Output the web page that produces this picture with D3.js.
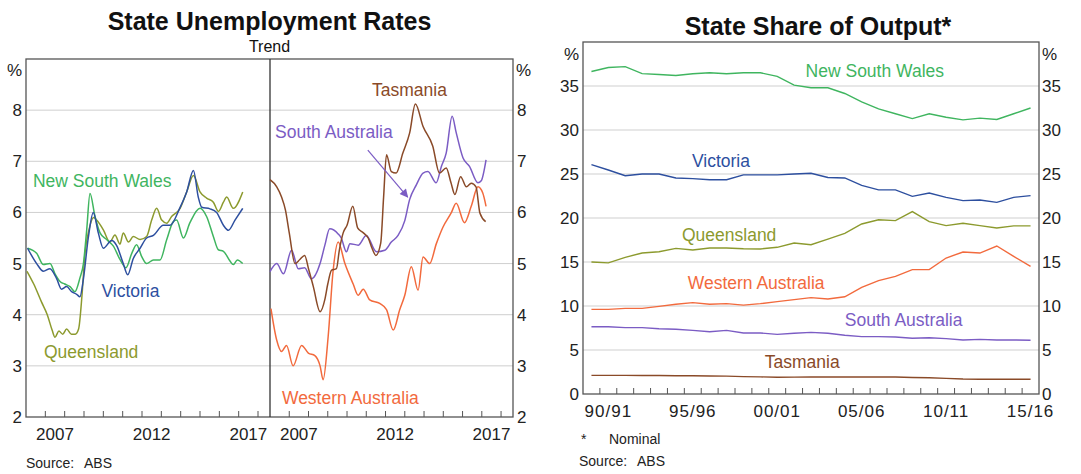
<!DOCTYPE html>
<html>
<head>
<meta charset="utf-8">
<script src="https://cdn.jsdelivr.net/npm/d3@7"></script>
<style>
  body { margin: 0; background: #fff; }
  svg { display: block; font-family: "Liberation Sans", Arial, sans-serif; }
</style>
</head>
<body>
<svg id="chart" width="1081" height="474"></svg>
<script>
// ---- left chart: unemployment rates, trend (decimal year, %) ----
const nswUnemp = [[2006.08,5.3],[2006.55,5.2],[2006.9,4.98],[2007.24,5.0],[2007.5,4.8],[2007.76,4.65],[2008.0,4.6],[2008.28,4.55],[2008.53,4.45],[2008.79,4.72],[2008.97,5.0],[2009.14,5.66],[2009.31,6.37],[2009.57,5.92],[2009.83,5.6],[2010.17,5.47],[2010.52,5.34],[2010.86,5.08],[2011.17,4.92],[2011.47,5.2],[2011.72,5.37],[2011.98,5.14],[2012.24,5.0],[2012.59,5.07],[2012.93,5.07],[2013.28,5.47],[2013.62,5.82],[2013.79,5.85],[2014.14,5.5],[2014.48,5.8],[2015.0,6.08],[2015.34,5.92],[2015.69,5.53],[2015.95,5.27],[2016.21,5.24],[2016.55,5.05],[2016.72,4.98],[2016.93,5.07],[2017.21,5.0]];
const vicUnemp = [[2006.08,5.3],[2006.55,5.0],[2006.9,4.85],[2007.24,4.9],[2007.59,4.7],[2007.84,4.5],[2008.1,4.55],[2008.36,4.45],[2008.62,4.4],[2008.79,4.35],[2008.97,4.7],[2009.22,5.5],[2009.48,6.0],[2009.74,5.6],[2010.0,5.3],[2010.43,5.45],[2010.69,5.35],[2011.03,5.0],[2011.26,4.78],[2011.55,5.1],[2011.9,5.3],[2012.24,5.5],[2012.59,5.55],[2013.1,5.75],[2013.45,5.75],[2013.97,6.1],[2014.31,6.4],[2014.66,6.82],[2014.91,6.3],[2015.09,6.1],[2015.52,6.07],[2015.86,6.0],[2016.21,5.75],[2016.47,5.65],[2016.81,5.85],[2017.21,6.08]];
const qldUnemp = [[2006.05,4.85],[2006.4,4.6],[2006.8,4.25],[2007.1,4.0],[2007.35,3.7],[2007.5,3.56],[2007.7,3.68],[2007.9,3.62],[2008.1,3.72],[2008.35,3.62],[2008.55,3.62],[2008.72,3.72],[2008.9,4.4],[2009.05,5.2],[2009.25,5.65],[2009.5,5.9],[2009.65,5.85],[2010.0,5.66],[2010.34,5.42],[2010.6,5.56],[2010.86,5.38],[2011.03,5.6],[2011.3,5.42],[2011.55,5.53],[2011.9,5.47],[2012.24,5.53],[2012.5,5.85],[2012.76,6.08],[2013.02,5.85],[2013.28,5.79],[2013.53,5.92],[2013.97,6.08],[2014.31,6.4],[2014.66,6.72],[2015.0,6.4],[2015.34,6.28],[2015.69,6.2],[2015.95,6.02],[2016.21,6.2],[2016.38,6.3],[2016.72,6.08],[2017.21,6.4]];
const tasUnemp = [[2006.0,6.64],[2006.35,6.5],[2006.6,6.3],[2006.8,6.05],[2007.0,5.6],[2007.3,5.0],[2007.55,5.08],[2007.8,5.16],[2008.0,4.9],[2008.25,4.55],[2008.6,4.06],[2008.85,4.3],[2009.0,4.6],[2009.2,4.87],[2009.45,4.9],[2009.6,5.26],[2009.8,5.6],[2010.0,5.75],[2010.3,6.12],[2010.55,5.7],[2010.85,5.6],[2011.1,5.5],[2011.3,5.3],[2011.5,5.16],[2011.75,5.4],[2011.9,6.3],[2012.05,7.13],[2012.3,6.8],[2012.55,6.77],[2012.9,7.16],[2013.25,7.55],[2013.55,8.12],[2013.95,7.68],[2014.45,7.3],[2014.8,6.77],[2015.15,6.87],[2015.4,6.58],[2015.6,6.35],[2015.9,6.7],[2016.2,6.5],[2016.45,6.57],[2016.7,6.5],[2016.9,5.99],[2017.2,5.82]];
const saUnemp = [[2006.0,4.84],[2006.35,5.0],[2006.7,4.8],[2007.12,5.26],[2007.47,4.9],[2007.8,4.92],[2008.15,4.7],[2008.6,5.0],[2008.85,5.36],[2009.1,5.68],[2009.54,5.58],[2009.7,5.5],[2009.97,5.23],[2010.15,5.39],[2010.58,5.36],[2011.0,5.55],[2011.53,5.23],[2011.96,5.26],[2012.3,5.42],[2012.65,5.55],[2013.0,5.84],[2013.25,6.25],[2013.6,6.54],[2013.95,6.77],[2014.2,6.8],[2014.63,6.58],[2014.9,6.9],[2015.15,7.16],[2015.46,7.88],[2015.67,7.56],[2016.02,7.07],[2016.36,6.9],[2016.8,6.58],[2016.97,6.62],[2017.22,7.03]];
const waUnemp = [[2006.05,4.12],[2006.35,3.5],[2006.6,3.28],[2006.86,3.4],[2007.2,3.0],[2007.64,3.4],[2007.99,3.25],[2008.33,3.2],[2008.6,3.0],[2008.76,2.73],[2009.02,3.57],[2009.28,4.87],[2009.54,5.42],[2009.89,5.0],[2010.32,4.6],[2010.58,4.38],[2010.84,4.5],[2011.18,4.29],[2011.7,4.22],[2012.05,4.1],[2012.4,3.7],[2012.74,4.1],[2013.0,4.38],[2013.34,4.94],[2013.69,4.48],[2013.95,5.13],[2014.29,5.0],[2014.64,5.39],[2014.98,5.71],[2015.41,5.99],[2015.67,6.18],[2016.1,5.8],[2016.45,6.12],[2016.8,6.5],[2017.05,6.38],[2017.22,6.12]];
const yearLabels = [2007, 2012, 2017];
const unempTicks = [2, 3, 4, 5, 6, 7, 8];

// ---- right chart: state share of output, nominal (%) ----
const fiscalYears = ["89/90","90/91","91/92","92/93","93/94","94/95","95/96","96/97","97/98","98/99","99/00","00/01","01/02","02/03","03/04","04/05","05/06","06/07","07/08","08/09","09/10","10/11","11/12","12/13","13/14","14/15","15/16"];
const nswShare = [36.65,37.1,37.2,36.4,36.3,36.2,36.4,36.5,36.4,36.5,36.5,36.1,35.1,34.8,34.8,34.15,33.2,32.4,31.85,31.3,31.85,31.45,31.15,31.35,31.2,31.85,32.5];
const vicShare = [26.06,25.45,24.8,25.0,25.0,24.55,24.47,24.35,24.35,24.9,24.9,24.9,25.0,25.08,24.6,24.55,23.7,23.2,23.2,22.46,22.84,22.35,21.97,22.05,21.78,22.35,22.54];
const qldShare = [15.0,14.9,15.53,16.02,16.17,16.55,16.36,16.59,16.59,16.5,16.48,16.67,17.16,16.97,17.6,18.26,19.32,19.8,19.7,20.72,19.58,19.13,19.4,19.13,18.86,19.1,19.1];
const waShare = [9.62,9.62,9.73,9.73,9.96,10.2,10.38,10.2,10.27,10.1,10.27,10.5,10.72,10.95,10.8,11.05,12.12,12.88,13.37,14.13,14.13,15.45,16.14,16.02,16.82,15.64,14.5];
const saShare = [7.65,7.65,7.54,7.54,7.42,7.35,7.23,7.08,7.23,6.93,6.93,6.78,6.9,7.0,6.9,6.67,6.52,6.52,6.48,6.33,6.4,6.29,6.14,6.21,6.14,6.14,6.1];
const tasShare = [2.12,2.12,2.12,2.1,2.1,2.08,2.08,2.05,2.03,1.97,1.95,1.9,1.92,1.95,1.93,1.93,1.93,1.93,1.93,1.88,1.85,1.78,1.7,1.68,1.68,1.68,1.67];
const fyLabels = ["90/91","95/96","00/01","05/06","10/11","15/16"];
const shareTicks = [0, 5, 10, 15, 20, 25, 30, 35];

const colors = {
  nsw: "#3fb55f", vic: "#2d4f9f", qld: "#8c9a2e",
  tas: "#8a4a28", sa: "#7b5cc4", wa: "#f26a3d"
};
const frameColor = "#555";
const gridColor = "#cfcfcf";
const textColor = "#222";

const svg = d3.select("#chart");

// =================== left chart ===================
const L = { left: 26, mid: 270, right: 513, top: 59, bottom: 417 };
const xL1 = d3.scaleLinear().domain([2006, 2018.62]).range([L.left, L.mid]);
const xL2 = d3.scaleLinear().domain([2006, 2018.62]).range([L.mid, L.right]);
const yL = d3.scaleLinear().domain([2, 9]).range([L.bottom, L.top]);

const left = svg.append("g");

left.append("g").selectAll("line")
  .data(unempTicks.filter(d => d > 2))
  .join("line")
  .attr("x1", L.left).attr("x2", L.right)
  .attr("y1", d => yL(d)).attr("y2", d => yL(d))
  .attr("stroke", gridColor).attr("stroke-width", 1);

// year ticks, both panels
[xL1, xL2].forEach(x => {
  left.append("g").selectAll("line")
    .data(d3.range(2007, 2019))
    .join("line")
    .attr("x1", d => x(d)).attr("x2", d => x(d))
    .attr("y1", L.bottom).attr("y2", L.bottom - 6)
    .attr("stroke", frameColor).attr("stroke-width", 1);

  left.append("g").selectAll("text")
    .data(yearLabels)
    .join("text")
    .attr("x", d => x(d + 0.5))
    .attr("y", L.bottom + 23)
    .attr("text-anchor", "middle")
    .attr("font-size", 17)
    .attr("fill", textColor)
    .text(d => d);
});

left.append("rect")
  .attr("x", L.left).attr("y", L.top)
  .attr("width", L.right - L.left).attr("height", L.bottom - L.top)
  .attr("fill", "none").attr("stroke", frameColor).attr("stroke-width", 1.3);
left.append("line")
  .attr("x1", L.mid).attr("x2", L.mid).attr("y1", L.top).attr("y2", L.bottom)
  .attr("stroke", "#333").attr("stroke-width", 1.3);

// y labels both sides
left.append("g").selectAll("text")
  .data(unempTicks)
  .join("text")
  .attr("x", L.left - 4).attr("y", d => yL(d) + 6)
  .attr("text-anchor", "end").attr("font-size", 17).attr("fill", textColor)
  .text(d => d);
left.append("g").selectAll("text")
  .data(unempTicks)
  .join("text")
  .attr("x", L.right + 4).attr("y", d => yL(d) + 6)
  .attr("font-size", 17).attr("fill", textColor)
  .text(d => d);
left.append("text").attr("x", L.left - 4).attr("y", L.top + 17)
  .attr("text-anchor", "end").attr("font-size", 17).attr("fill", textColor).text("%");
left.append("text").attr("x", L.right + 3).attr("y", L.top + 17)
  .attr("font-size", 17).attr("fill", textColor).text("%");

const lineL1 = d3.line().x(d => xL1(d[0])).y(d => yL(d[1])).curve(d3.curveMonotoneX);
const lineL2 = d3.line().x(d => xL2(d[0])).y(d => yL(d[1])).curve(d3.curveMonotoneX);

[[qldUnemp, colors.qld], [nswUnemp, colors.nsw], [vicUnemp, colors.vic]].forEach(([data, c]) => {
  left.append("path").datum(data)
    .attr("d", lineL1).attr("fill", "none")
    .attr("stroke", c).attr("stroke-width", 1.5);
});
[[waUnemp, colors.wa], [saUnemp, colors.sa], [tasUnemp, colors.tas]].forEach(([data, c]) => {
  left.append("path").datum(data)
    .attr("d", lineL2).attr("fill", "none")
    .attr("stroke", c).attr("stroke-width", 1.5);
});

// series labels
const leftLabels = [
  { text: "New South Wales", x: xL1, at: [2006.36, 6.5], c: colors.nsw },
  { text: "Victoria", x: xL1, at: [2009.9, 4.35], c: colors.vic },
  { text: "Queensland", x: xL1, at: [2006.93, 3.15], c: colors.qld },
  { text: "Tasmania", x: xL2, at: [2011.3, 8.28], c: colors.tas },
  { text: "South Australia", x: xL2, at: [2006.26, 7.45], c: colors.sa },
  { text: "Western Australia", x: xL2, at: [2006.62, 2.26], c: colors.wa }
];
left.append("g").selectAll("text")
  .data(leftLabels)
  .join("text")
  .attr("x", d => d.x(d.at[0])).attr("y", d => yL(d.at[1]))
  .attr("font-size", 17.5).attr("fill", d => d.c)
  .text(d => d.text);

// arrow to South Australia line
svg.append("defs").append("marker")
  .attr("id", "arrowhead")
  .attr("viewBox", "0 -5 10 10")
  .attr("refX", 9).attr("refY", 0)
  .attr("markerWidth", 8).attr("markerHeight", 7)
  .attr("orient", "auto")
  .append("path")
  .attr("d", "M0,-5L10,0L0,5Z")
  .attr("fill", colors.sa);
left.append("line")
  .attr("x1", xL2(2011.08)).attr("y1", yL(7.22))
  .attr("x2", xL2(2013.15)).attr("y2", yL(6.3))
  .attr("stroke", colors.sa).attr("stroke-width", 1.2)
  .attr("marker-end", "url(#arrowhead)");

left.append("text").attr("x", (L.left + L.right) / 2).attr("y", 30)
  .attr("text-anchor", "middle").attr("font-size", 25).attr("font-weight", "bold")
  .attr("fill", "#111").text("State Unemployment Rates");
left.append("text").attr("x", (L.left + L.right) / 2).attr("y", 52)
  .attr("text-anchor", "middle").attr("font-size", 16).attr("fill", "#111").text("Trend");
left.append("text").attr("x", L.left).attr("y", 468)
  .attr("font-size", 14).attr("fill", textColor).text("Source:");
left.append("text").attr("x", L.left + 58).attr("y", 468)
  .attr("font-size", 14).attr("fill", textColor).text("ABS");

// =================== right chart ===================
const R = { left: 583, right: 1039, top: 42, bottom: 394 };
const xR = d3.scaleLinear().domain([-0.5, fiscalYears.length - 0.5]).range([R.left, R.right]);
const yR = d3.scaleLinear().domain([0, 40]).range([R.bottom, R.top]);

const right = svg.append("g");

right.append("g").selectAll("line")
  .data(shareTicks.filter(d => d > 0))
  .join("line")
  .attr("x1", R.left).attr("x2", R.right)
  .attr("y1", d => yR(d)).attr("y2", d => yR(d))
  .attr("stroke", gridColor).attr("stroke-width", 1);

right.append("g").selectAll("line")
  .data(d3.range(0, fiscalYears.length - 1))
  .join("line")
  .attr("x1", d => xR(d + 0.5)).attr("x2", d => xR(d + 0.5))
  .attr("y1", R.bottom).attr("y2", R.bottom - 6)
  .attr("stroke", frameColor).attr("stroke-width", 1);

right.append("rect")
  .attr("x", R.left).attr("y", R.top)
  .attr("width", R.right - R.left).attr("height", R.bottom - R.top)
  .attr("fill", "none").attr("stroke", frameColor).attr("stroke-width", 1.3);

right.append("g").selectAll("text")
  .data(fyLabels)
  .join("text")
  .attr("x", d => xR(fiscalYears.indexOf(d)))
  .attr("y", R.bottom + 23)
  .attr("text-anchor", "middle").attr("font-size", 17)
  .attr("letter-spacing", 1).attr("fill", textColor)
  .text(d => d);

right.append("g").selectAll("text")
  .data(shareTicks)
  .join("text")
  .attr("x", R.left - 4).attr("y", d => yR(d) + 6)
  .attr("text-anchor", "end").attr("font-size", 17).attr("fill", textColor)
  .text(d => d);
right.append("g").selectAll("text")
  .data(shareTicks)
  .join("text")
  .attr("x", R.right + 3).attr("y", d => yR(d) + 6)
  .attr("font-size", 17).attr("fill", textColor)
  .text(d => d);
right.append("text").attr("x", R.left - 4).attr("y", R.top + 18)
  .attr("text-anchor", "end").attr("font-size", 17).attr("fill", textColor).text("%");
right.append("text").attr("x", R.right + 3).attr("y", R.top + 18)
  .attr("font-size", 17).attr("fill", textColor).text("%");

const lineR = d3.line().x((d, i) => xR(i)).y(d => yR(d));
[[nswShare, colors.nsw], [vicShare, colors.vic], [qldShare, colors.qld],
 [waShare, colors.wa], [saShare, colors.sa], [tasShare, colors.tas]].forEach(([data, c]) => {
  right.append("path").datum(data)
    .attr("d", lineR).attr("fill", "none")
    .attr("stroke", c).attr("stroke-width", 1.4);
});

const rightLabels = [
  { text: "New South Wales", at: [12.68, 36.0], c: colors.nsw },
  { text: "Victoria", at: [5.95, 25.8], c: colors.vic },
  { text: "Queensland", at: [5.36, 17.4], c: colors.qld },
  { text: "Western Australia", at: [5.7, 11.93], c: colors.wa },
  { text: "South Australia", at: [15.0, 7.73], c: colors.sa },
  { text: "Tasmania", at: [10.26, 2.95], c: colors.tas }
];
right.append("g").selectAll("text")
  .data(rightLabels)
  .join("text")
  .attr("x", d => xR(d.at[0])).attr("y", d => yR(d.at[1]))
  .attr("font-size", 17.5).attr("fill", d => d.c)
  .text(d => d.text);

right.append("text").attr("x", (R.left + R.right) / 2 + 7).attr("y", 35)
  .attr("text-anchor", "middle").attr("font-size", 25).attr("font-weight", "bold")
  .attr("fill", "#111").text("State Share of Output*");
right.append("text").attr("x", R.left - 2).attr("y", 444)
  .attr("font-size", 14).attr("fill", textColor).text("*");
right.append("text").attr("x", R.left + 26).attr("y", 444)
  .attr("font-size", 14).attr("fill", textColor).text("Nominal");
right.append("text").attr("x", R.left - 4).attr("y", 466)
  .attr("font-size", 14).attr("fill", textColor).text("Source:");
right.append("text").attr("x", R.left + 54).attr("y", 466)
  .attr("font-size", 14).attr("fill", textColor).text("ABS");
</script>
</body>
</html>
